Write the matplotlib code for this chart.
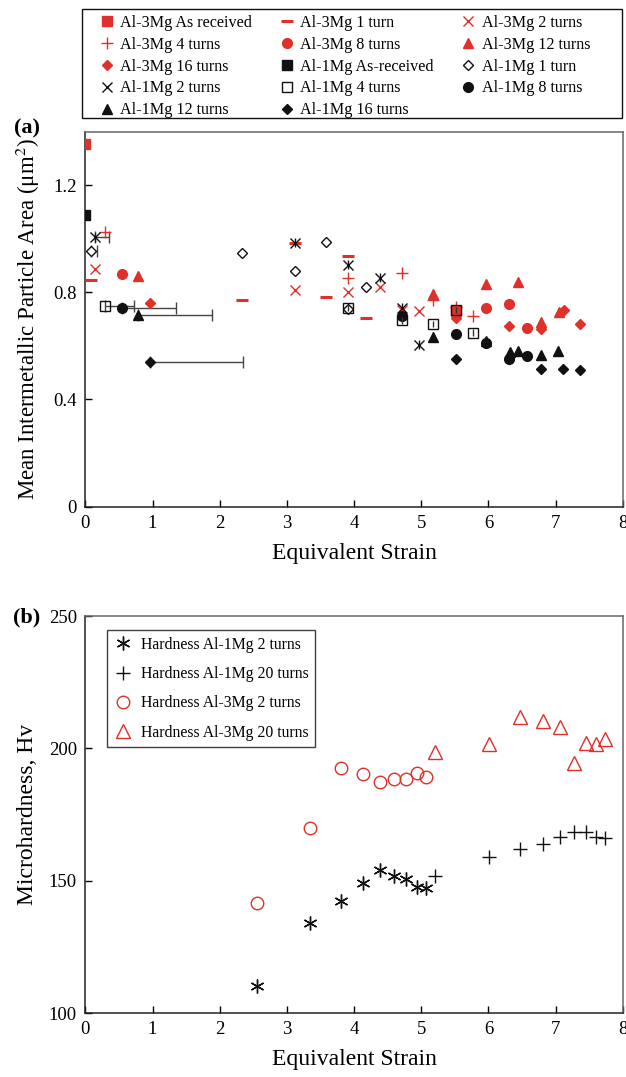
import numpy as np
import matplotlib
matplotlib.use("Agg")
import matplotlib.pyplot as plt
from matplotlib.patches import Rectangle

plt.rcParams['font.family'] = ['Liberation Serif', 'DejaVu Serif']
plt.rcParams['mathtext.fontset'] = 'stix'

RED = '#e0302a'
BLK = '#111111'

# ---- panel (a): mean intermetallic particle area vs equivalent strain ----
# Al-3Mg
a3_ar_x = [0.0, 5.51]
a3_ar_y = [1.355, 0.732]
a3_t1_x = [0.08, 2.33, 3.12, 3.58, 3.91, 4.18]
a3_t1_y = [0.847, 0.772, 0.985, 0.782, 0.934, 0.706]
a3_t2_x = [0.145, 3.12, 3.91, 4.38, 4.71, 4.97]
a3_t2_y = [0.887, 0.807, 0.801, 0.819, 0.735, 0.732]
a3_t4_x = [0.29, 3.91, 4.71, 5.18, 5.51, 5.77]
a3_t4_y = [1.025, 0.853, 0.872, 0.772, 0.745, 0.713]
a3_t8_x = [0.55, 5.97, 6.31, 6.57]
a3_t8_y = [0.869, 0.741, 0.756, 0.668]
a3_t12_x = [0.79, 5.18, 5.97, 6.44, 6.78, 7.05]
a3_t12_y = [0.860, 0.793, 0.831, 0.837, 0.688, 0.728]
a3_t16_x = [0.97, 5.51, 6.31, 6.78, 7.12, 7.36]
a3_t16_y = [0.760, 0.706, 0.675, 0.662, 0.735, 0.682]
# Al-1Mg
a1_ar_x = [0.0]
a1_ar_y = [1.09]
a1_t1_x = [0.08, 2.33, 3.12, 3.58, 3.91, 4.18]
a1_t1_y = [0.956, 0.946, 0.880, 0.989, 0.738, 0.819]
a1_t2_x = [0.145, 3.12, 3.91, 4.38, 4.71, 4.97]
a1_t2_y = [1.005, 0.985, 0.903, 0.855, 0.743, 0.604]
a1_t4_x = [0.29, 3.91, 4.71, 5.18, 5.51, 5.77]
a1_t4_y = [0.748, 0.741, 0.695, 0.682, 0.735, 0.650]
a1_t8_x = [0.55, 4.71, 5.51, 5.97, 6.31, 6.57]
a1_t8_y = [0.741, 0.710, 0.645, 0.612, 0.550, 0.563]
a1_t12_x = [0.79, 5.18, 5.97, 6.32, 6.44, 6.78, 7.04]
a1_t12_y = [0.716, 0.632, 0.620, 0.579, 0.582, 0.566, 0.582]
a1_t16_x = [0.97, 5.51, 6.78, 7.11, 7.36]
a1_t16_y = [0.538, 0.550, 0.513, 0.514, 0.510]

# strain error bars (upper side only) for the low-strain Al-1Mg points
xerr_pts_x = [0.08, 0.145, 0.29, 0.55, 0.79, 0.97]
xerr_pts_y = [0.956, 1.005, 0.748, 0.741, 0.716, 0.538]
xerr_plus = [0.10, 0.21, 0.43, 0.80, 1.10, 1.38]
# small vertical error bars
a1_t2_yerr = [0.017, 0.017, 0.017, 0.017, 0.017, 0.017]
a1_t4_yerr = [0.0, 0.012, 0.012, 0.012, 0.012, 0.012]

labels_a = ['Al-3Mg As received', 'Al-3Mg 1 turn', 'Al-3Mg 2 turns',
            'Al-3Mg 4 turns', 'Al-3Mg 8 turns', 'Al-3Mg 12 turns',
            'Al-3Mg 16 turns', 'Al-1Mg As-received', 'Al-1Mg 1 turn',
            'Al-1Mg 2 turns', 'Al-1Mg 4 turns', 'Al-1Mg 8 turns',
            'Al-1Mg 12 turns', 'Al-1Mg 16 turns']

# ---- panel (b): microhardness ----
hv1_2_x = [2.55, 3.34, 3.80, 4.13, 4.38, 4.59, 4.77, 4.93, 5.07]
hv1_2_y = [110.3, 134.2, 142.4, 149.3, 154.1, 151.9, 150.6, 147.8, 147.2]
hv1_20_x = [5.20, 6.01, 6.47, 6.81, 7.06, 7.28, 7.45, 7.60, 7.74]
hv1_20_y = [151.8, 158.9, 162.0, 163.8, 166.7, 168.3, 168.3, 166.7, 166.1]
hv3_2_x = [2.55, 3.34, 3.80, 4.13, 4.38, 4.59, 4.77, 4.93, 5.07]
hv3_2_y = [141.5, 170.1, 192.5, 190.3, 187.3, 188.5, 188.4, 190.7, 189.1]
hv3_20_x = [5.20, 6.01, 6.47, 6.81, 7.06, 7.28, 7.45, 7.60, 7.74]
hv3_20_y = [198.5, 201.6, 211.7, 210.2, 208.1, 194.4, 202.2, 201.6, 203.6]
labels_b = ['Hardness Al-1Mg 2 turns', 'Hardness Al-1Mg 20 turns',
            'Hardness Al-3Mg 2 turns', 'Hardness Al-3Mg 20 turns']

fig = plt.figure(figsize=(6.26, 10.77), dpi=100)
ax_a = fig.add_axes([0.1363, 0.5297, 0.8586, 0.348])
ax_b = fig.add_axes([0.1363, 0.0594, 0.8586, 0.3685])


def style_axes(ax):
    ax.tick_params(direction='in', length=5, width=1, labelsize=13.5,
                   top=False, right=False, pad=6)
    for s in ax.spines.values():
        s.set_linewidth(1.1)
        s.set_color('#222222')
    ax.spines['top'].set_color('#666666')
    ax.spines['right'].set_color('#666666')


# error bars first
ax_a.errorbar(xerr_pts_x, xerr_pts_y, xerr=[[0] * 6, xerr_plus], fmt='none',
              ecolor='#444444', elinewidth=1, capsize=4, capthick=1, zorder=1)
ax_a.errorbar(a1_t2_x, a1_t2_y, yerr=a1_t2_yerr, fmt='none',
              ecolor=BLK, elinewidth=1, capsize=0, zorder=1)
ax_a.errorbar(a1_t4_x, a1_t4_y, yerr=a1_t4_yerr, fmt='none',
              ecolor='#333333', elinewidth=1, capsize=0, zorder=4)

series_a = [
    (a3_ar_x, a3_ar_y, dict(marker='s', ms=6.5, color=RED)),
    (a3_t1_x, a3_t1_y, dict(marker='_', ms=8, mew=2.2, color=RED)),
    (a3_t2_x, a3_t2_y, dict(marker='x', ms=7.5, mew=1, color=RED)),
    (a3_t4_x, a3_t4_y, dict(marker='+', ms=8, mew=1, color=RED)),
    (a3_t8_x, a3_t8_y, dict(marker='o', ms=7, color=RED)),
    (a3_t12_x, a3_t12_y, dict(marker='^', ms=7.5, color=RED)),
    (a3_t16_x, a3_t16_y, dict(marker='D', ms=5.5, color=RED)),
    (a1_ar_x, a1_ar_y, dict(marker='s', ms=6.5, color=BLK)),
    (a1_t1_x, a1_t1_y, dict(marker='D', ms=5.5, color=BLK, mfc='white', mew=1)),
    (a1_t2_x, a1_t2_y, dict(marker='x', ms=7.5, mew=1, color=BLK)),
    (a1_t4_x, a1_t4_y, dict(marker='s', ms=7, color=BLK, mfc='none', mew=1)),
    (a1_t8_x, a1_t8_y, dict(marker='o', ms=7, color=BLK)),
    (a1_t12_x, a1_t12_y, dict(marker='^', ms=7.5, color=BLK)),
    (a1_t16_x, a1_t16_y, dict(marker='D', ms=5.5, color=BLK)),
]
handles_a = []
for (x, y, kw), lab in zip(series_a, labels_a):
    h, = ax_a.plot(x, y, linestyle='none', label=lab, zorder=3, **kw)
    handles_a.append(h)

ax_a.set_xlim(0, 8)
ax_a.set_ylim(0, 1.4)
ax_a.set_yticks([0, 0.4, 0.8, 1.2])
ax_a.set_yticklabels(['0', '0.4', '0.8', '1.2'])
ax_a.set_xticks(range(9))
ax_a.set_xlabel('Equivalent Strain', fontsize=17, labelpad=8)
ax_a.set_ylabel('Mean Intermetallic Particle Area (μm$^{2}$)', fontsize=16.5, labelpad=8)
style_axes(ax_a)

# legend in row-major order like the reference, with a separate box
order = [0, 3, 6, 9, 12, 1, 4, 7, 10, 13, 2, 5, 8, 11]
leg = fig.legend([handles_a[i] for i in order], [labels_a[i] for i in order],
                 ncol=3, loc='upper left',
                 bbox_to_anchor=(98.5 / 626, 1 - 15 / 1077),
                 fontsize=11.6, frameon=False, borderaxespad=0, borderpad=0,
                 labelspacing=0.36, handlelength=1.0, handletextpad=0.33,
                 columnspacing=1.66, numpoints=1)
fig.add_artist(Rectangle((82 / 626, 1 - 117.5 / 1077), 540 / 626, 108.5 / 1077,
                         transform=fig.transFigure, fill=False,
                         edgecolor=BLK, linewidth=1))

# panel (b)
ax_b.plot(hv1_2_x, hv1_2_y, linestyle='none', marker=(6, 2, 0), ms=10, mew=1,
          color=BLK, label=labels_b[0])
ax_b.plot(hv1_20_x, hv1_20_y, linestyle='none', marker='+', ms=10, mew=1,
          color=BLK, label=labels_b[1])
ax_b.plot(hv3_2_x, hv3_2_y, linestyle='none', marker='o', ms=9, mew=1,
          color=RED, mfc='none', label=labels_b[2])
ax_b.plot(hv3_20_x, hv3_20_y, linestyle='none', marker='^', ms=9.5, mew=1,
          color=RED, mfc='none', label=labels_b[3])
ax_b.set_xlim(0, 8)
ax_b.set_ylim(100, 250)
ax_b.set_yticks([100, 150, 200, 250])
ax_b.set_xticks(range(9))
ax_b.set_xlabel('Equivalent Strain', fontsize=17, labelpad=8)
ax_b.set_ylabel('Microhardness, Hv', fontsize=17, labelpad=8)
style_axes(ax_b)
leg_b = ax_b.legend(loc='upper left', bbox_to_anchor=(0.04, 0.964),
                    borderaxespad=0, fontsize=11.3, frameon=True, fancybox=False,
                    edgecolor=BLK, labelspacing=0.85, handlelength=1.2,
                    handletextpad=0.6, borderpad=0.4, numpoints=1)
leg_b.get_frame().set_linewidth(1)

fig.text(27 / 626, 1 - 128 / 1077, '(a)', fontsize=16, fontweight='bold',
         ha='center', va='center')
fig.text(27 / 626, 1 - 617 / 1077, '(b)', fontsize=16, fontweight='bold',
         ha='center', va='center')

fig.savefig('out.png', dpi=100)
